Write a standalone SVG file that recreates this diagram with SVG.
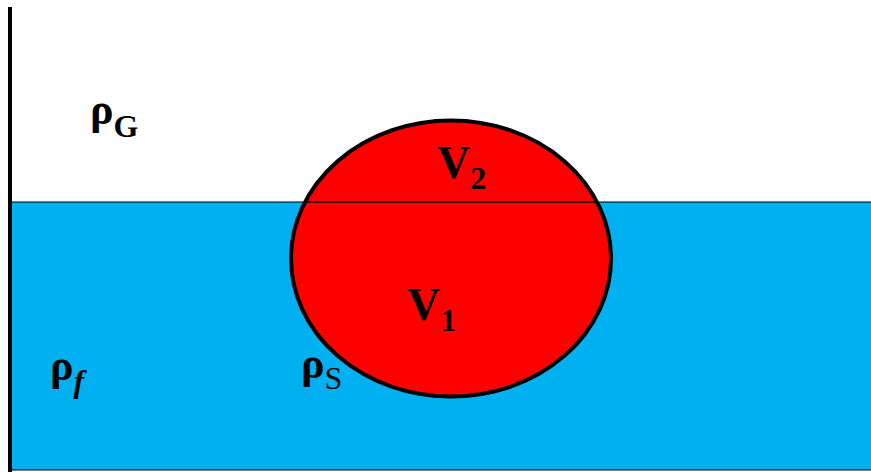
<svg xmlns="http://www.w3.org/2000/svg" width="871" height="472" viewBox="0 0 871 472">
<style>
.t{font-family:"Liberation Serif","Times New Roman",serif;font-weight:bold;fill:#000}
</style>
<rect width="871" height="472" fill="#fff"/>
<g id="water">
<rect x="11" y="202" width="862" height="268" fill="#00b0f0" stroke="#000" stroke-width="1"/>
</g>
<g id="wall">
<line x1="10" y1="7" x2="10" y2="472" stroke="#000" stroke-width="4"/>
</g>
<g id="sphere">
<ellipse cx="451" cy="258.5" rx="160" ry="138" fill="#ff0000" stroke="#000" stroke-width="4"/>
<line x1="304" y1="202" x2="598" y2="202" stroke="#000" stroke-width="1.5"/>
</g>
<g id="labels">
<text class="t" x="90" y="124" font-size="44">ρ<tspan font-size="32" dy="13">G</tspan></text>
<text class="t" x="50" y="380" font-size="44">ρ<tspan font-size="32" dy="12" font-style="italic">f</tspan></text>
<text class="t" x="301" y="378" font-size="44">ρ<tspan font-size="32" dy="11" font-weight="normal">S</tspan></text>
<text class="t" x="437" y="178" font-size="46">V<tspan font-size="32" dy="11">2</tspan></text>
<text class="t" x="407" y="320" font-size="46">V<tspan font-size="32" dy="11">1</tspan></text>
</g>
</svg>
